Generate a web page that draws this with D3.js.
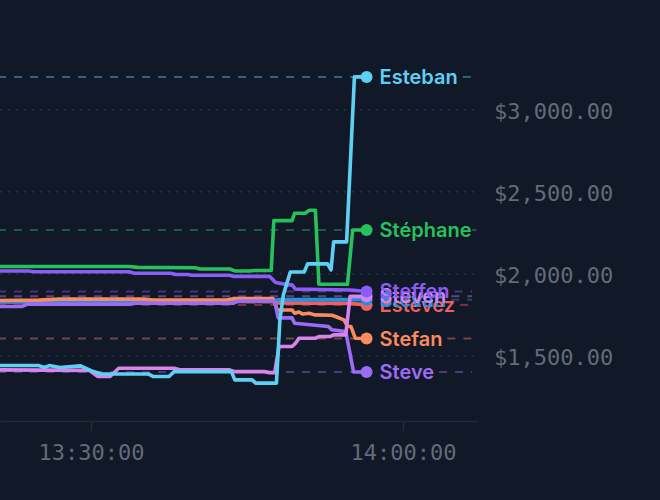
<!DOCTYPE html>
<html>
<head>
<meta charset="utf-8">
<script src="https://cdn.jsdelivr.net/npm/d3@7"></script>
<style>
  html, body { margin: 0; padding: 0; background: #111827; }
  svg { display: block; }
</style>
</head>
<body>
<svg id="chart"></svg>
<script>
// values, one [time, dollars] list per trader
const esteban = [
    ["13:20:00", 1441], ["13:25:00", 1441], ["13:25:30", 1429], ["13:26:00", 1441],
    ["13:27:00", 1429], ["13:29:00", 1439], ["13:30:00", 1410], ["13:31:00", 1390],
    ["13:35:30", 1390], ["13:36:00", 1374], ["13:37:30", 1374], ["13:38:00", 1404],
    ["13:43:30", 1404], ["13:43:50", 1354], ["13:45:30", 1354], ["13:45:50", 1334],
    ["13:47:50", 1334], ["13:48:10", 1720], ["13:48:30", 1872], ["13:49:10", 2012],
    ["13:50:30", 2012], ["13:50:50", 2061], ["13:52:45", 2061], ["13:53:05", 2024],
    ["13:53:20", 2195], ["13:54:35", 2195], ["13:55:20", 3201], ["13:56:30", 3201]
];
const stephane = [
    ["13:20:00", 2045], ["13:33:40", 2045], ["13:34:30", 2040], ["13:40:00", 2037],
    ["13:40:30", 2030], ["13:43:20", 2030], ["13:43:50", 2018], ["13:45:20", 2018],
    ["13:45:40", 2021], ["13:47:20", 2021], ["13:47:35", 2325], ["13:49:20", 2325],
    ["13:49:35", 2370], ["13:50:35", 2370], ["13:51:00", 2388], ["13:51:35", 2388],
    ["13:51:55", 1937], ["13:54:40", 1937], ["13:55:10", 2268], ["13:56:30", 2268]
];
const steffen = [
    ["13:20:00", 2018], ["13:24:00", 2018], ["13:24:30", 2013], ["13:33:40", 2013],
    ["13:34:10", 2004], ["13:37:40", 2004], ["13:38:10", 1996], ["13:39:20", 1996],
    ["13:39:40", 1992], ["13:43:20", 1992], ["13:43:40", 1985], ["13:47:10", 1985],
    ["13:47:45", 1947], ["13:49:00", 1933], ["13:49:20", 1933], ["13:49:40", 1907],
    ["13:52:00", 1905], ["13:55:00", 1902], ["13:56:30", 1893]
];
const steven = [
    ["13:20:00", 1415], ["13:29:50", 1412], ["13:30:40", 1374], ["13:31:50", 1374],
    ["13:32:40", 1425], ["13:38:00", 1425], ["13:38:30", 1415], ["13:43:20", 1415],
    ["13:43:50", 1404], ["13:46:40", 1404], ["13:47:10", 1398], ["13:47:40", 1398],
    ["13:48:05", 1557], ["13:49:20", 1557], ["13:49:40", 1577], ["13:50:00", 1608],
    ["13:51:35", 1608], ["13:51:55", 1618], ["13:53:00", 1618], ["13:53:20", 1628],
    ["13:54:30", 1628], ["13:54:55", 1863], ["13:56:30", 1863]
];
const stevan = [
    ["13:20:00", 1829], ["13:30:00", 1831], ["13:40:00", 1833], ["13:47:30", 1835],
    ["13:48:00", 1843], ["13:56:30", 1843]
];
const estevez = [
    ["13:20:00", 1830], ["13:30:00", 1832], ["13:40:00", 1835], ["13:47:30", 1830],
    ["13:48:00", 1823], ["13:55:00", 1820], ["13:56:30", 1811]
];
const stefan = [
    ["13:20:00", 1837], ["13:25:00", 1840], ["13:27:00", 1846], ["13:35:00", 1846],
    ["13:36:00", 1841], ["13:43:00", 1841], ["13:43:40", 1849], ["13:47:30", 1849],
    ["13:47:55", 1780], ["13:49:20", 1780], ["13:49:35", 1760], ["13:50:00", 1768],
    ["13:50:20", 1755], ["13:51:00", 1760], ["13:51:30", 1750], ["13:53:10", 1748],
    ["13:53:30", 1740], ["13:54:20", 1720], ["13:54:40", 1679], ["13:55:00", 1679],
    ["13:55:25", 1608], ["13:56:30", 1606]
];
const steve = [
    ["13:20:00", 1801], ["13:23:20", 1801], ["13:23:50", 1815], ["13:33:40", 1815],
    ["13:34:10", 1821], ["13:43:40", 1821], ["13:44:10", 1835], ["13:47:40", 1835],
    ["13:48:00", 1732], ["13:49:20", 1732], ["13:49:35", 1699], ["13:52:50", 1679],
    ["13:53:10", 1659], ["13:54:30", 1648], ["13:55:15", 1402], ["13:56:30", 1402]
];

// drawing order, bottom first
const names = ["Estevez", "Stevan", "Stefan", "Steve", "Steven", "Steffen", "Stéphane", "Esteban"];
const values = [estevez, stevan, stefan, steve, steven, steffen, stephane, esteban];
const colors = ["#f0605f", "#2192e6", "#fa8a60", "#9d6cf4", "#d984ea", "#8b5cf6", "#27c15c", "#5ed0f4"];

const yTicks = [1500, 2000, 2500, 3000];
const timeDomain = ["13:21:15", "14:07:13"];
const valueDomain = [1100, 3670];

const width = 660,
    height = 500,
    bg = "#111827";

const parseTime = d3.timeParse("%H:%M:%S");

const series = names.map((name, i) => ({
    name,
    color: colors[i],
    points: values[i].map(([t, v]) => ({ t: parseTime(t), v }))
}));

const x = d3.scaleTime()
    .domain(timeDomain.map(parseTime))
    .range([0, 478]);

const y = d3.scaleLinear()
    .domain(valueDomain)
    .range([421.5, 0]);

const svg = d3.select("#chart")
    .attr("width", width)
    .attr("height", height)
    .style("background", bg);

// dotted grid at the price ticks
svg.append("g")
    .selectAll("line")
    .data(yTicks)
    .enter().append("line")
    .attr("x1", 0)
    .attr("x2", 474)
    .attr("y1", d => y(d))
    .attr("y2", d => y(d))
    .attr("stroke", "#333d4d")
    .attr("stroke-width", 1.3)
    .attr("stroke-dasharray", "1.5,6.5");

// price labels on the right
const yAxis = svg.append("g")
    .attr("transform", "translate(494,0)")
    .call(d3.axisRight(y).tickValues(yTicks).tickSize(0).tickPadding(0).tickFormat(d3.format("$,.2f")));
yAxis.select(".domain").remove();
yAxis.selectAll("text")
    .attr("dy", "0.4em")
    .attr("fill", "#646b78")
    .style("font-family", "'DejaVu Sans Mono', monospace")
    .style("font-size", "22px");

// time axis
const xAxis = svg.append("g")
    .attr("transform", "translate(0,421)")
    .call(d3.axisBottom(x).ticks(d3.timeMinute.every(30)).tickSize(10).tickSizeOuter(0).tickPadding(13).tickFormat(d3.timeFormat("%H:%M:%S")));
xAxis.select(".domain").attr("stroke", "#232b38").attr("stroke-width", 1.5);
xAxis.selectAll(".tick line").attr("stroke", "#232b38").attr("stroke-width", 1.5);
xAxis.selectAll("text")
    .attr("fill", "#646b78")
    .style("font-family", "'DejaVu Sans Mono', monospace")
    .style("font-size", "22px");

const last = s => s.points[s.points.length - 1];

const refLines = svg.append("g");

const line = d3.line()
    .x(d => x(d.t))
    .y(d => y(d.v));

svg.append("g")
    .selectAll("path")
    .data(series)
    .enter().append("path")
    .attr("d", d => line(d.points))
    .attr("fill", "none")
    .attr("stroke", d => d.color)
    .attr("stroke-width", 3.6)
    .attr("stroke-linejoin", "round")
    .attr("stroke-linecap", "round");

// end dots and name labels, lower values first so higher ones sit on top
const ends = series.slice().sort((a, b) => last(a).v - last(b).v);

const marks = svg.append("g")
    .selectAll("g")
    .data(ends)
    .enter().append("g")
    .attr("transform", d => `translate(${x(last(d).t)},${y(last(d).v)})`);

marks.append("circle")
    .attr("r", 6)
    .attr("fill", d => d.color);

const labels = marks.append("text")
    .attr("x", 13)
    .attr("dy", "0.35em")
    .attr("fill", d => d.color)
    .style("font-family", "Inter, sans-serif")
    .style("font-weight", 600)
    .style("font-size", "20px")
    .text(d => d.name);

// dashed line at each latest value, broken where the dot and name sit
labels.each(function (d) {
    const yy = y(last(d).v);
    const x0 = x(last(d).t);
    const x1 = x0 + 13 + this.getComputedTextLength() + 5;
    [[0, x0 - 6], [x1, 472]].forEach(([a, b]) => {
        refLines.append("line")
            .attr("x1", a)
            .attr("x2", b)
            .attr("y1", yy)
            .attr("y2", yy)
            .attr("stroke", d.color)
            .attr("stroke-opacity", 0.42)
            .attr("stroke-width", 2)
            .attr("stroke-dasharray", "8,8")
            .attr("stroke-dashoffset", a === 0 ? 2 : 0);
    });
});
</script>
</body>
</html>
